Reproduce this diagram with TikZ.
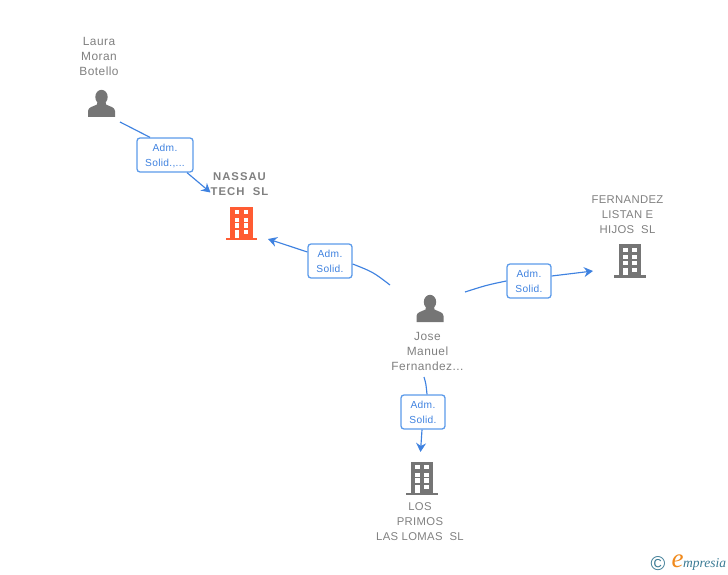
\documentclass[tikz,border=0pt]{standalone}
\usepackage{fontspec}
\setmainfont{Liberation Sans}
\newfontfamily\logofont{Liberation Serif}
\newfontfamily\wideName[LetterSpace=4]{Liberation Sans}
\newfontfamily\wideCaps[LetterSpace=3]{Liberation Sans}
\newfontfamily\wideBold[LetterSpace=9]{Liberation Sans}
\newfontfamily\wideBox[LetterSpace=3]{Liberation Sans}
\usetikzlibrary{arrows.meta,calc}
\definecolor{iconGray}{HTML}{757575}
\definecolor{textGray}{HTML}{808080}
\definecolor{linkBlue}{HTML}{3F82E0}
\definecolor{boxBlue}{HTML}{5C9BEA}
\definecolor{hotOrange}{HTML}{FF5C33}
\definecolor{logoTeal}{HTML}{3A7A94}
\definecolor{logoOrange}{HTML}{F08A1D}
\tikzset{
  x=1pt,y=-1pt,
  caption/.style={font=\wideCaps\fontsize{11.3}{15}\selectfont,text=textGray,align=center,inner sep=0pt},
  namecaption/.style={caption,font=\wideName\fontsize{11.9}{15}\selectfont},
  boldcaption/.style={caption,font=\wideBold\fontsize{11.3}{15}\selectfont\bfseries},
  linkbox/.style={draw=boxBlue,line width=1.3pt,rounded corners=3pt,fill=white,text=linkBlue,
    font=\wideBox\fontsize{10.2}{15}\selectfont,align=center,minimum width=44pt,minimum height=34pt,inner sep=0pt,text depth=0pt},
  link/.style={draw=linkBlue,line width=1.15pt},
  linkarrow/.style={link,-{Stealth[length=9pt,width=10pt,inset=3pt]}},
  iconbox/.style={inner sep=0pt,minimum width=28pt,minimum height=28pt},
}
\newcommand{\personicon}[2]{% centre x, centre y
  \begin{scope}[shift={(#1,#2)}]
    \fill[iconGray] (0,-6.5) ellipse (6.2 and 7.2);
    \fill[iconGray] (-13.5,13.5) -- (-13.5,7.5) .. controls (-13.5,3.5) and (-8,3) .. (-4.5,1)
      -- (-4,-2) -- (4,-2) -- (4.5,1) .. controls (8,3) and (13.5,3.5) .. (13.5,7.5) -- (13.5,13.5) -- cycle;
  \end{scope}}
\newcommand{\buildingicon}[3]{% centre x, centre y, colour
  \begin{scope}[shift={(#1,#2)}]
    \fill[#3] (-15.7,14.5) rectangle (15.5,17.4);
    \fill[#3] (-11.3,-16.5) rectangle (11,15);
    \foreach \wx in {-7,2.3}{
      \fill[white] (\wx,-13) rectangle +(4.5,4.3);
      \fill[white] (\wx,-5.3) rectangle +(4.5,4);
      \fill[white] (\wx,0.3) rectangle +(4.5,4.4);
    }
    \fill[white] (-7,7) rectangle (-2.5,14.5);
    \fill[white] (2.3,7) rectangle (6.8,11.3);
  \end{scope}}
\begin{document}
\begin{tikzpicture}
\useasboundingbox (0,0) rectangle (728,575);
% icons
\node[iconbox] (laura) at (101.5,103.5) {};
\personicon{101.5}{103.5}
\node[iconbox] (jose) at (430,308.5) {};
\personicon{430}{308.5}
\node[iconbox] (nassau) at (241.5,223) {};
\buildingicon{241.5}{223}{hotOrange}
\node[iconbox] (fernandez) at (630,260.5) {};
\buildingicon{630}{260.5}{iconGray}
\node[iconbox] (primos) at (422,478) {};
\buildingicon{422}{478}{iconGray}
% captions
\node[namecaption] (lauratext) at (99,56) {Laura\\Moran\\Botello};
\node[boldcaption] (nassautext) at (239.5,184.5) {NASSAU\\TECH\ \ SL};
\node[caption] (fernandeztext) at (627.5,215) {FERNANDEZ\\LISTAN E\\HIJOS\ \ SL};
\node[namecaption] (josetext) at (427.5,351) {Jose\\Manuel\\Fernandez...};
\node[caption] (primostext) at (420,522) {LOS\\PRIMOS\\LAS LOMAS\ \ SL};
% link boxes
\node[linkbox,minimum width=56pt] (b1) at (165,155) {\raisebox{-1pt}{Adm.}\\\raisebox{-1pt}{Solid.,...}};
\node[linkbox] (b2) at (330,261) {\raisebox{-1pt}{Adm.}\\\raisebox{-1pt}{Solid.}};
\node[linkbox] (b3) at (529,281) {\raisebox{-1pt}{Adm.}\\\raisebox{-1pt}{Solid.}};
\node[linkbox] (b4) at (423,412) {\raisebox{-1pt}{Adm.}\\\raisebox{-1pt}{Solid.}};
% free ends
\coordinate (l1s) at (120,122);
\coordinate (l1e) at (210.5,192.5);
\coordinate (l2s) at (390,285);
\coordinate (l2e) at (268,239);
\coordinate (l3s) at (465,292);
\coordinate (l3e) at (593,271);
\coordinate (l4s) at (424,377);
\coordinate (l4e) at (420.5,452);
% connectors
\draw[link] (l1s) -- ([xshift=-15pt]b1.north);
\draw[linkarrow] ([xshift=22pt]b1.south) -- (l1e);
\draw[link] (l2s) .. controls (373,272) .. ([yshift=-3pt]b2.east);
\draw[linkarrow] ([yshift=9pt]b2.west) -- (l2e);
\draw[link] (l3s) .. controls (487,285) .. (b3.west);
\draw[linkarrow] ([yshift=5pt]b3.east) -- (l3e);
\draw[link] (l4s) .. controls (426,384) .. ([xshift=4pt]b4.north);
\draw[linkarrow] ([xshift=-1pt]b4.south) -- (l4e);
% logo
\node[inner sep=0pt,text=logoTeal,font=\fontsize{20}{20}\selectfont] (copy) at (658,564) {©};
\node[inner sep=0pt,text=logoOrange,font=\logofont\itshape\fontsize{27}{27}\selectfont] (logoe) at (677.5,561.5) {e};
\node[inner sep=0pt,anchor=west,text=logoTeal,font=\logofont\itshape\fontsize{13.5}{14}\selectfont] (logotext) at (683,564.5) {mpresia};
\end{tikzpicture}
\end{document}
